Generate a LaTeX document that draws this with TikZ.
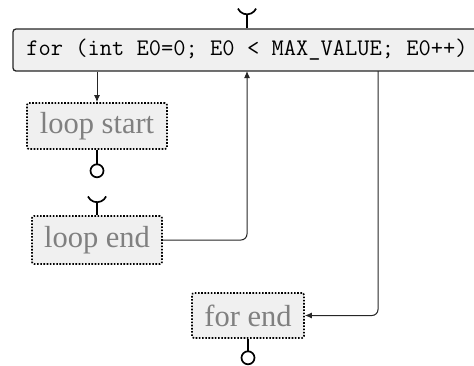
\documentclass[tikz,border=0pt]{standalone}
\usepackage{fontspec}
\usetikzlibrary{arrows.meta}
\newfontfamily\labelfont{Liberation Serif}
\definecolor{boxfill}{HTML}{F0F0F0}
\definecolor{labelgray}{HTML}{808080}
\definecolor{wire}{HTML}{262626}
\tikzset{
  stmtbox/.style={draw=wire, fill=boxfill, line width=1.3pt, rounded corners=3pt,
    minimum width=468pt, minimum height=42pt, inner sep=0pt,
    font=\fontsize{23.8}{26}\selectfont\ttfamily},
  markbox/.style={draw=black, fill=boxfill, line width=1.6pt,
    dash pattern=on 1.6pt off 1.6pt, rounded corners=2pt,
    minimum height=46pt, inner xsep=12pt, inner ysep=0pt,
    text=labelgray, font=\labelfont\fontsize{30.5}{33}\selectfont},
  flow/.style={draw=wire, line width=1pt, rounded corners=6pt,
    -{Latex[length=7pt,width=6pt]}},
  plug/.style={draw=black, line width=1.7pt},
}
\begin{document}
\begin{tikzpicture}[x=1pt,y=1pt]
  \clip (0,0) rectangle (474,-365);

  % statement and marker blocks
  \node[stmtbox] (for) at (247,-50) {for (int E0=0; E0 < MAX\_VALUE; E0++)};
  \node[markbox, minimum width=140pt] (lstart) at (97,-126) {loop start};
  \node[markbox, minimum width=130pt, minimum height=48pt] (lend) at (97,-240) {loop end};
  \node[markbox, minimum width=112pt, minimum height=45pt] (fend) at (248,-315.5) {for end};

  % control flow
  \draw[flow] (for.south -| lstart.north) -- (lstart.north);
  \coordinate (back) at (247,-71);
  \draw[flow] (lend.east) -| (back);
  \coordinate (exit) at (378,-71);
  \draw[flow] (exit) |- (fend.east);

  % sockets (inputs)
  \draw[plug] (for.north) -- ++(0,14) coordinate (s1);
  \draw[plug] (s1) ++(0,10) ++(205:10) arc[start angle=205, end angle=335, radius=10];
  \draw[plug] (lend.north) -- ++(0,13) coordinate (s2);
  \draw[plug] (s2) ++(0,10) ++(205:10) arc[start angle=205, end angle=335, radius=10];

  % balls (outputs)
  \draw[plug] (lstart.south) -- ++(0,-14.5) coordinate (b1);
  \draw[plug] (b1) ++(0,-6.5) circle[radius=6.5];
  \draw[plug] (fend.south) -- ++(0,-12.5) coordinate (b2);
  \draw[plug] (b2) ++(0,-6.5) circle[radius=6.5];
\end{tikzpicture}
\end{document}
